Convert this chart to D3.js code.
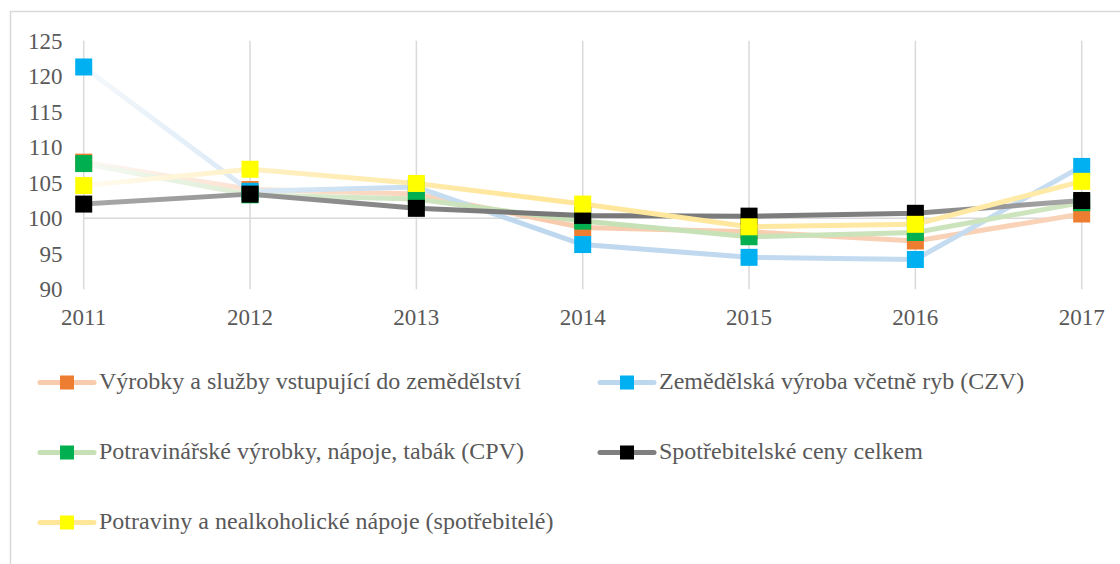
<!DOCTYPE html>
<html>
<head>
<meta charset="utf-8">
<script src="https://cdn.jsdelivr.net/npm/d3@7"></script>
<style>
    body { margin: 0; background: #fff; }
</style>
</head>
<body>
<div id="chart"></div>
<script>
var years = ["2011", "2012", "2013", "2014", "2015", "2016", "2017"];
var yTicks = [90, 95, 100, 105, 110, 115, 120, 125];

var seriesNames = [
    "Výrobky a služby vstupující do zemědělství",
    "Zemědělská výroba včetně ryb (CZV)",
    "Potravinářské výrobky, nápoje, tabák (CPV)",
    "Spotřebitelské ceny celkem",
    "Potraviny a nealkoholické nápoje (spotřebitelé)"
];
var vyrobky = [107.9, 104.05, 103.4, 98.7, 98.1, 96.8, 100.6];
var zemedelska = [121.3, 103.8, 104.4, 96.3, 94.5, 94.2, 107.3];
var potravinarske = [107.7, 103.3, 102.7, 99.6, 97.4, 98.0, 102.2];
var spotrebitelske = [102.0, 103.4, 101.4, 100.4, 100.3, 100.7, 102.5];
var potraviny = [104.6, 106.9, 104.9, 102.0, 98.8, 99.15, 105.2];

var markerColors = ["#ed7d31", "#00b0f0", "#00b050", "#000000", "#ffff00"];
var lineColors = ["#f8cbad", "#bdd7ee", "#c5e0b4", "#7f7f7f", "#ffe699"];

var FONT = "Liberation Serif";

var chart = (function () {
    var width = 1120, height = 564;

    return {
        draw: function (placement) {
            var data = [vyrobky, zemedelska, potravinarske, spotrebitelske, potraviny];

            var svg = d3.select(placement).append("svg")
                .attr("width", width)
                .attr("height", height);

            // frame
            svg.append("rect")
                .attr("x", 10.5).attr("y", 11.5)
                .attr("width", width + 20).attr("height", height + 20)
                .style("fill", "none").style("stroke", "#d9d9d9").style("stroke-width", 1.5);

            var x = d3.scalePoint().domain(years).range([83.7, 1081.7]);
            var y = d3.scaleLinear().domain([90, 125]).range([289.3, 40.7]);

            // gradients so the lines fade like the original
            var defs = svg.append("defs");
            lineColors.forEach(function (c, i) {
                var g = defs.append("linearGradient")
                    .attr("id", "grad" + i)
                    .attr("gradientUnits", "userSpaceOnUse")
                    .attr("x1", x("2011")).attr("x2", x("2017"))
                    .attr("y1", 0).attr("y2", 0);
                var stops;
                if (i === 3) {
                    stops = [[0, "#a8a8a8"], [0.45, "#777777"], [0.8, "#7f7f7f"], [1, "#a8a8a8"]];
                } else {
                    var pale = d3.interpolateRgb("#ffffff", c);
                    stops = [[0, pale(0.15)], [0.18, pale(0.6)], [0.45, c], [1, pale(0.85)]];
                }
                stops.forEach(function (s) {
                    g.append("stop").attr("offset", s[0]).attr("stop-color", s[1]);
                });
            });

            // vertical gridlines
            svg.append("g").selectAll("line")
                .data(years)
                .enter().append("line")
                .attr("x1", function (d) { return x(d); })
                .attr("x2", function (d) { return x(d); })
                .attr("y1", y(125)).attr("y2", y(90))
                .style("stroke", "#d9d9d9").style("stroke-width", 1.5);

            // category axis crossing at 100
            svg.append("line")
                .attr("x1", x("2011")).attr("x2", x("2017"))
                .attr("y1", y(100)).attr("y2", y(100))
                .style("stroke", "#d9d9d9").style("stroke-width", 1.5);

            // y labels
            svg.append("g").selectAll("text")
                .data(yTicks)
                .enter().append("text")
                .attr("x", 62.5)
                .attr("y", function (d) { return y(d); })
                .attr("dy", "0.35em")
                .attr("text-anchor", "end")
                .style("font-family", FONT)
                .style("font-size", "23px")
                .style("fill", "#595959")
                .text(function (d) { return d; });

            // x labels
            svg.append("g").selectAll("text")
                .data(years)
                .enter().append("text")
                .attr("x", function (d) { return x(d); })
                .attr("y", 325)
                .attr("text-anchor", "middle")
                .style("font-family", FONT)
                .style("font-size", "23px")
                .style("fill", "#595959")
                .text(function (d) { return d; });

            var line = d3.line()
                .x(function (d, i) { return x(years[i]); })
                .y(function (d) { return y(d); });

            svg.append("g").selectAll("path")
                .data(data)
                .enter().append("path")
                .attr("d", line)
                .style("fill", "none")
                .style("stroke", function (d, i) { return "url(#grad" + i + ")"; })
                .style("stroke-width", 5)
                .style("stroke-linejoin", "round")
                .style("stroke-linecap", "round");

            var ms = 17;
            data.forEach(function (vals, i) {
                svg.append("g").selectAll("rect")
                    .data(vals)
                    .enter().append("rect")
                    .attr("x", function (d, j) { return x(years[j]) - ms / 2; })
                    .attr("y", function (d) { return y(d) - ms / 2; })
                    .attr("width", ms).attr("height", ms)
                    .style("fill", markerColors[i]);
            });

            // legend
            var legend = svg.append("g").selectAll("g")
                .data(seriesNames)
                .enter().append("g")
                .attr("transform", function (d, i) {
                    return "translate(" + (40 + (i % 2) * 560) + "," + (382.5 + Math.floor(i / 2) * 70) + ")";
                });

            legend.append("line")
                .attr("x1", 0).attr("x2", 54)
                .attr("y1", 0).attr("y2", 0)
                .style("stroke", function (d, i) { return lineColors[i]; })
                .style("stroke-width", 5)
                .style("stroke-linecap", "round");

            legend.append("rect")
                .attr("x", 20).attr("y", -7)
                .attr("width", 14).attr("height", 14)
                .style("fill", function (d, i) { return markerColors[i]; });

            legend.append("text")
                .attr("x", 59)
                .attr("y", 6.5)
                .style("font-family", FONT)
                .style("font-size", "24px")
                .style("fill", "#595959")
                .text(function (d) { return d; });
        }
    }
})();

chart.draw("#chart");
</script>
</body>
</html>
